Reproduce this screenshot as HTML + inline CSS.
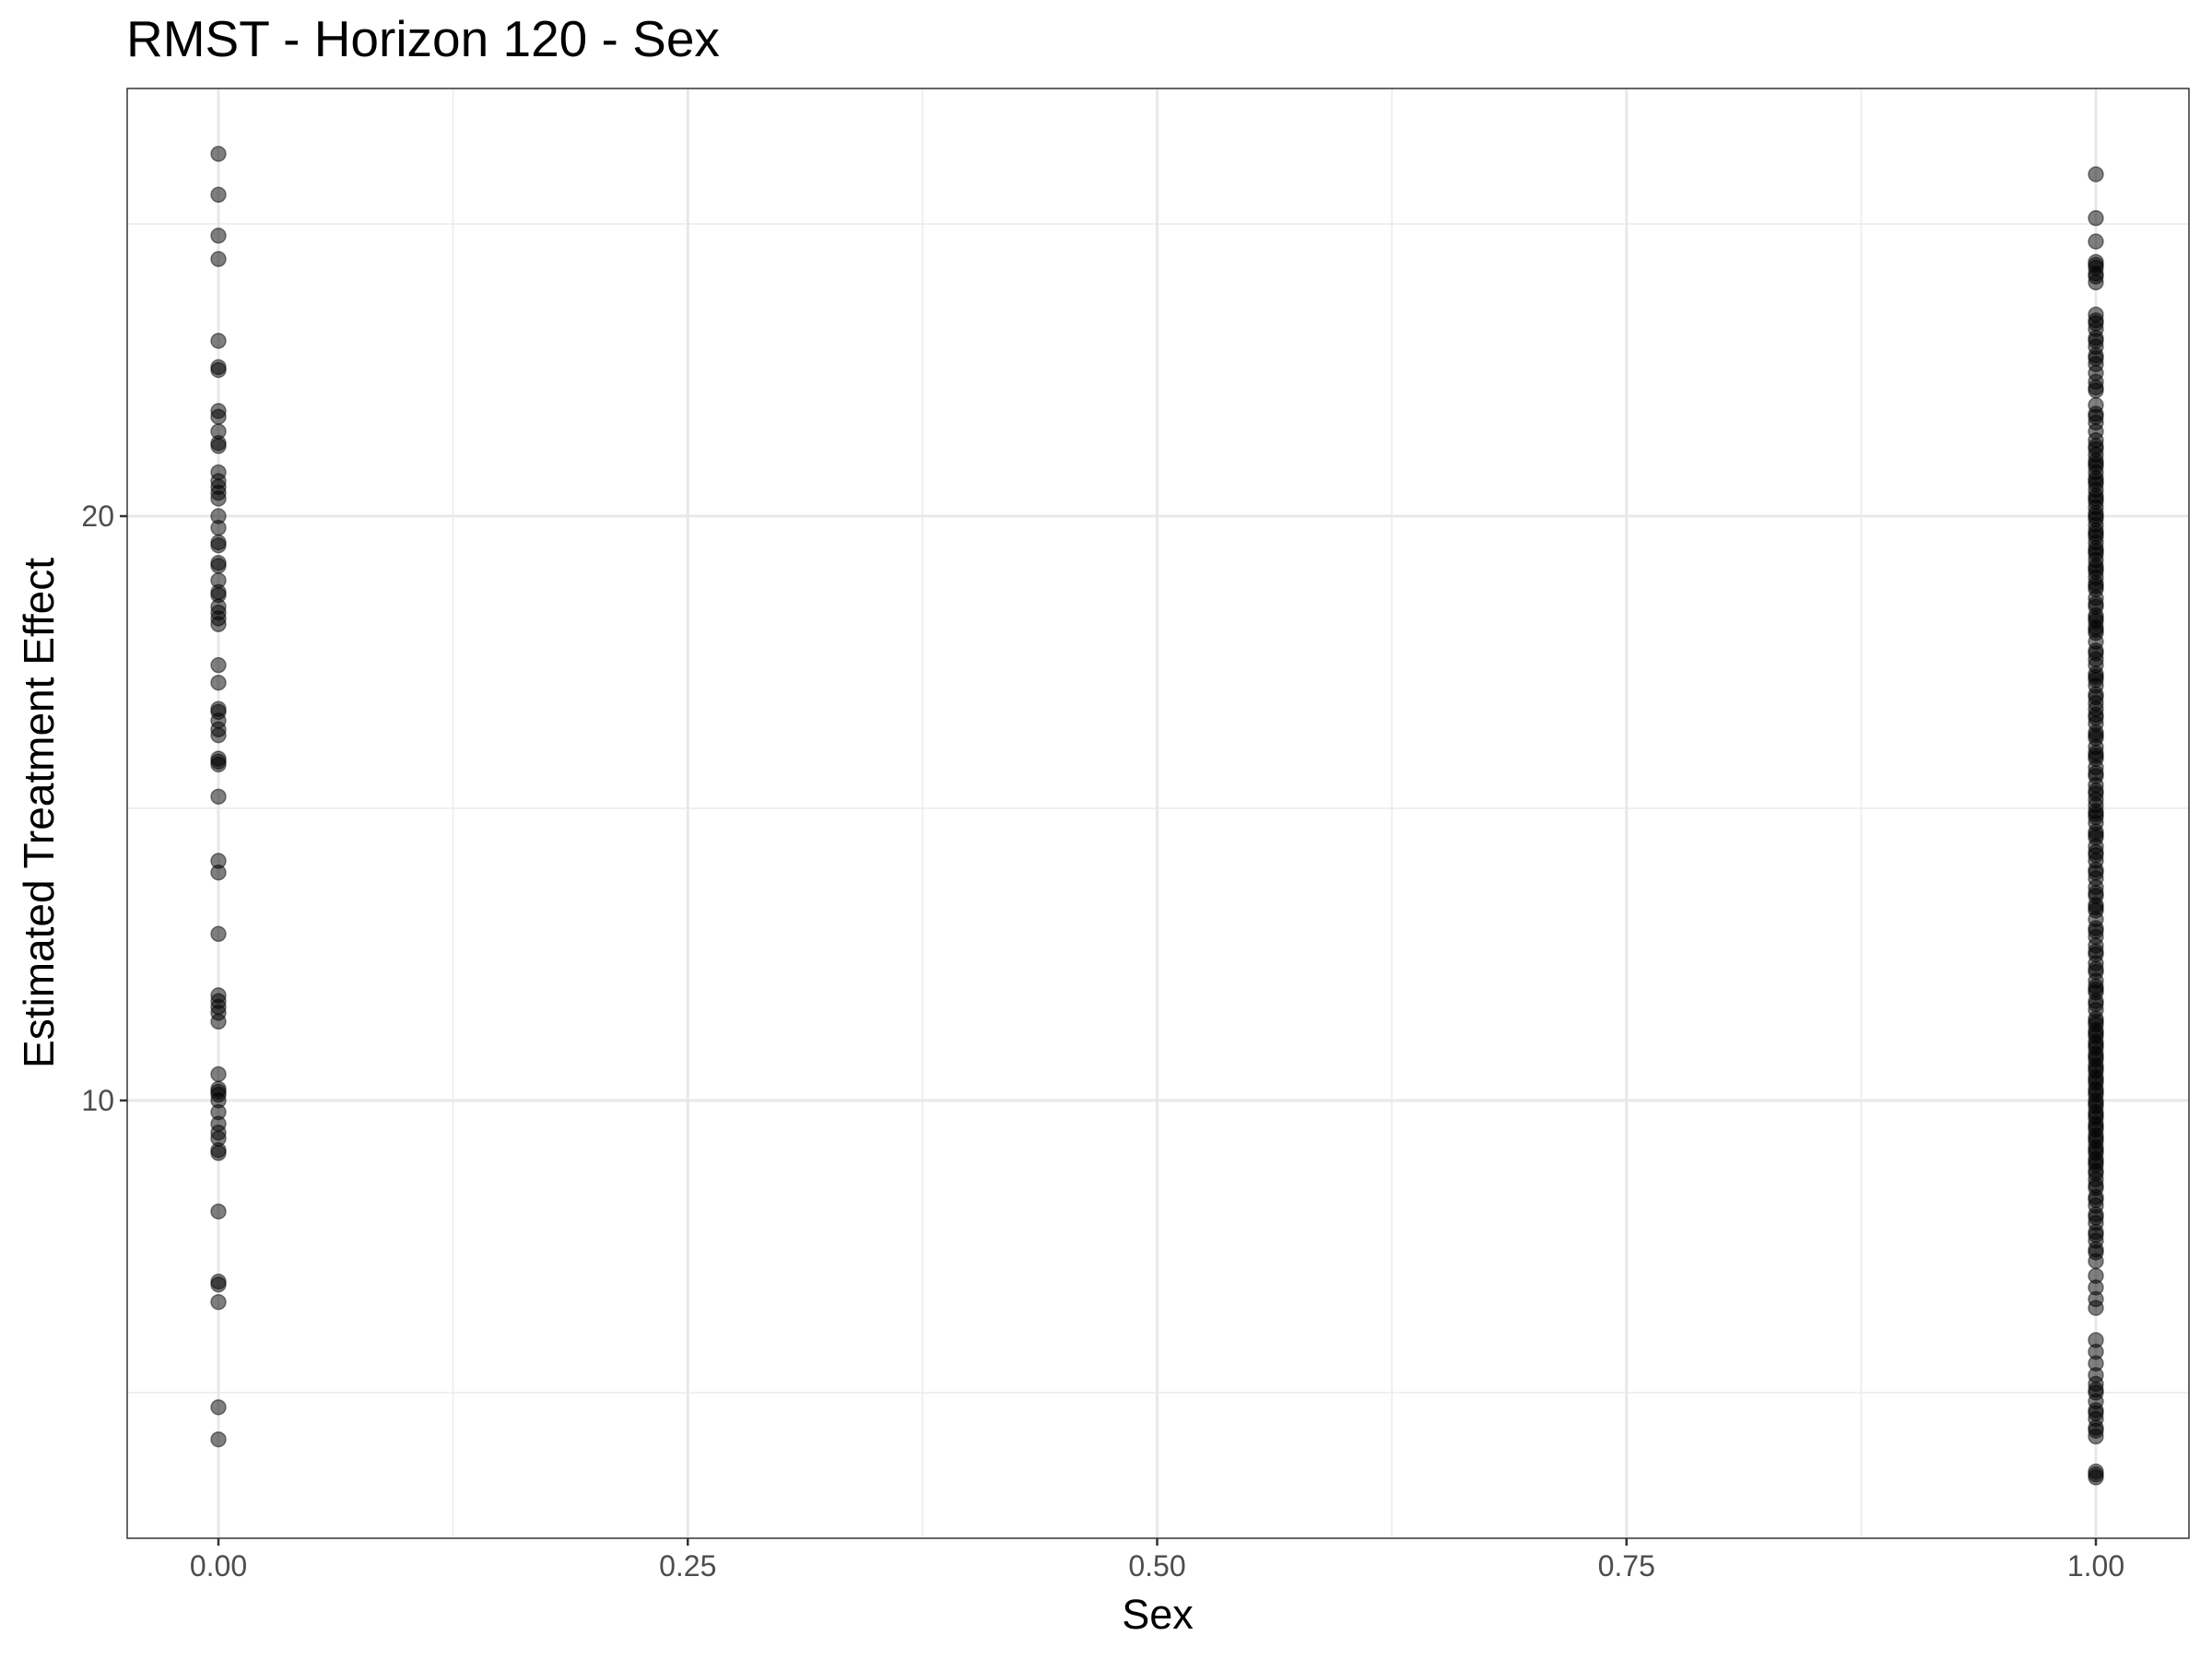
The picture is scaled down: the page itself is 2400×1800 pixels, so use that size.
<!DOCTYPE html>
<html><head><meta charset="utf-8"><style>
html,body{margin:0;padding:0;background:#fff;}
svg{display:block;font-family:"Liberation Sans",Arial,sans-serif;}
</style></head><body>
<svg id="chart" width="2400" height="1800" viewBox="0 0 2400 1800" xmlns="http://www.w3.org/2000/svg">
<rect x="0" y="0" width="2400" height="1800" fill="#fff"/>
<text x="137" y="61" font-size="55" fill="#000">RMST - Horizon 120 - Sex</text>
<g id="grid"></g>
<g id="points"></g>
<rect x="138" y="96" width="2237" height="1573" fill="none" stroke="#333" stroke-width="1.5"/>
<g id="axes"></g>
<text x="1256" y="1767" font-size="45" text-anchor="middle" fill="#000">Sex</text>
<text transform="translate(58,882) rotate(-90)" font-size="46" text-anchor="middle" fill="#000">Estimated Treatment Effect</text>
</svg>
<script>
const xTicks=[0,0.25,0.5,0.75,1];
const xTickLabels=["0.00","0.25","0.50","0.75","1.00"];
const xMinor=[0.125,0.375,0.625,0.875];
const yTicks=[10,20];
const yTickLabels=["10","20"];
const yMinor=[5,15,25];
const group0=[26.2,25.5,24.8,24.4,23.0,22.55,22.5,21.8,21.7,21.45,21.25,21.2,20.75,20.6,20.5,20.4,20.3,20.0,19.8,19.55,19.5,19.2,19.15,18.9,18.7,18.65,18.45,18.35,18.25,18.15,17.45,17.15,16.7,16.65,16.5,16.35,16.25,15.85,15.8,15.75,15.2,14.1,13.9,12.85,11.8,11.7,11.6,11.5,11.35,10.45,10.2,10.15,10.1,10.0,9.8,9.6,9.45,9.35,9.15,9.1,8.1,6.9,6.85,6.55,4.75,4.2];
const group1=[25.85,25.1,24.7,24.35,24.25,24.15,24.0,23.45,23.35,23.2,23.05,22.9,22.75,22.6,22.45,22.3,22.15,21.9,21.75,21.6,21.45,21.3,21.15,21.05,20.95,20.85,20.75,20.65,20.55,20.45,20.35,20.25,20.15,20.05,19.95,19.85,19.75,19.65,19.55,19.45,19.35,19.25,19.15,19.05,18.95,18.85,18.75,18.6,18.45,18.3,18.2,18.1,18.0,17.85,17.7,17.55,17.45,17.3,17.2,17.1,16.95,16.8,16.7,16.55,16.45,16.3,16.2,16.05,15.95,15.85,15.7,15.55,15.4,15.3,15.15,15.05,14.95,14.85,14.75,14.6,14.5,14.35,14.2,14.1,13.95,13.8,13.65,13.5,13.35,13.25,13.1,12.95,12.8,12.65,12.5,12.35,12.2,12.05,11.95,11.85,11.7,11.55,11.4,11.3,11.2,11.1,11.0,10.9,10.8,10.7,10.6,10.5,10.4,10.3,10.2,10.1,10.0,9.9,9.8,9.7,9.6,9.5,9.4,9.3,9.2,9.1,9.0,8.9,8.8,8.65,8.5,8.35,8.2,8.05,7.9,7.75,7.6,7.45,7.25,7.0,6.8,6.6,6.45,5.9,5.7,5.5,5.3,5.15,5.0,4.85,4.7,4.55,4.4,4.25,3.65,3.55,
24.3,24.1,23.3,23.0,22.7,22.2,21.7,21.2,20.9,20.6,20.3,20.0,19.7,19.4,19.1,18.8,18.5,18.25,18.05,17.65,17.25,16.9,16.6,16.25,15.9,15.6,15.25,14.9,14.55,14.25,13.9,13.55,13.3,12.9,12.55,12.25,11.9,11.65,11.35,11.15,10.95,10.75,10.55,10.35,10.15,9.95,9.75,9.55,9.35,9.15,8.95,8.75,8.55,8.3,8.0,7.7,7.4,5.05,4.65,4.35,3.6];
const NS="http://www.w3.org/2000/svg";
const L=138,R=2375,T=96,B=1669;
function xs(v){return 237+v*(2274-237);}
function ys(v){return 560-(v-20)*63.4;}
function mk(tag,attrs,parent){const e=document.createElementNS(NS,tag);for(const k in attrs)e.setAttribute(k,attrs[k]);parent.appendChild(e);return e;}
const grid=document.getElementById('grid'),axes=document.getElementById('axes'),pts=document.getElementById('points');
xMinor.forEach(v=>{const e=mk('line',{x1:xs(v),x2:xs(v),y1:T,y2:B,stroke:'#ebebeb','stroke-width':1.5},grid);

});
yMinor.forEach(v=>{const e=mk('line',{x1:L,x2:R,y1:ys(v),y2:ys(v),stroke:'#ebebeb','stroke-width':1.5},grid);

});
xTicks.forEach((v,i)=>{const e=mk('line',{x1:xs(v),x2:xs(v),y1:T,y2:B,stroke:'#e8e8e8','stroke-width':3},grid);


const t=mk('line',{x1:xs(v),x2:xs(v),y1:B,y2:B+8,stroke:'#333','stroke-width':2.5},axes);


const lb=mk('text',{x:xs(v),y:B+41,'font-size':32,'text-anchor':'middle',fill:'#4d4d4d'},axes);lb.textContent=xTickLabels[i];

});
yTicks.forEach((v,i)=>{const e=mk('line',{x1:L,x2:R,y1:ys(v),y2:ys(v),stroke:'#e8e8e8','stroke-width':3},grid);


const t=mk('line',{x1:L-8,x2:L,y1:ys(v),y2:ys(v),stroke:'#333','stroke-width':2.5},axes);


const lb=mk('text',{x:L-14,y:ys(v)+11,'font-size':32,'text-anchor':'end',fill:'#4d4d4d'},axes);lb.textContent=yTickLabels[i];

});
[[0,group0],[1,group1]].forEach(([gx,vals])=>{vals.forEach(v=>{const c=mk('circle',{cx:xs(gx),cy:ys(v),r:8,fill:'rgba(0,0,0,0.5)',stroke:'rgba(0,0,0,0.45)','stroke-width':1.5},pts);

});});
</script>
</body></html>
